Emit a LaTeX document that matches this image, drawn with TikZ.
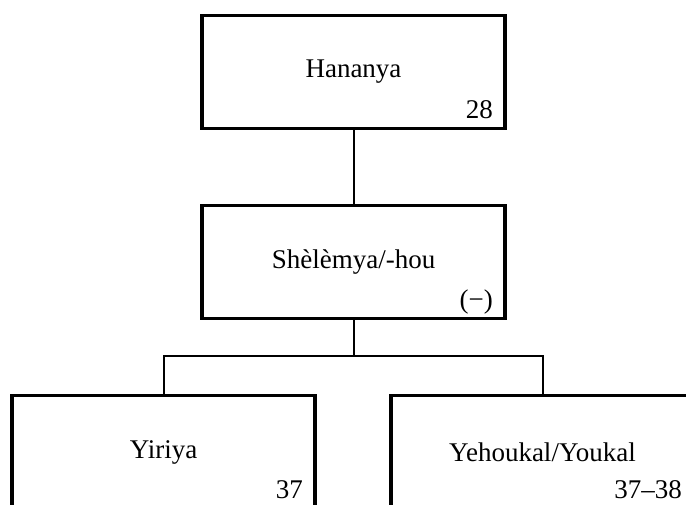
\documentclass[tikz,border=0pt]{standalone}
\usepackage{fontspec}
\setmainfont{Liberation Serif}
\usepackage{tikz}
\usetikzlibrary{calc}
\usetikzlibrary{positioning}
\tikzset{person/.style={draw=black, rectangle, line width=3.5pt, minimum width=303pt, minimum height=113pt, inner sep=0pt, outer sep=0pt, font=\fontsize{27}{32}\selectfont}}
\tikzset{num/.style={inner sep=0pt, font=\fontsize{27}{32}\selectfont}}
\tikzset{link/.style={draw=black, line width=2pt}}

\begin{document}
\begin{tikzpicture}[node distance={77pt}]
		\useasboundingbox (0,0) rectangle (686pt,504pt);
		\clip (0,0) rectangle (686pt,504pt);
		\node[person] (hananya) at (353.5pt,432pt) {Hananya};
		\node[person] (shelemya) [below=of hananya] {Shèlèmya/-hou};
		\node[person] (yiriya) [below=of shelemya, xshift=-190pt] {Yiriya};
		\node[person] (yehoukal) [below=of shelemya, xshift=189pt] {Yehoukal/Youkal};
		
		% numbers in the corners
		\node[num, anchor=base east] (hananya-n) at ($(hananya.south east)+(-12pt,10pt)$) {28};
		\node[num, anchor=base east] (shelemya-n) at ($(shelemya.south east)+(-12pt,10pt)$) {(−)};
		\node[num, anchor=base east] (yiriya-n) at ($(yiriya.south east)+(-12pt,10pt)$) {37};
		\node[num, anchor=base east] (yehoukal-n) at ($(yehoukal.south east)+(-12pt,10pt)$) {37–38};
		
		\coordinate (fork) at ($(shelemya.south)+(0,-38pt)$);
		\draw[link] (hananya) -- (shelemya);
		\draw[link] (shelemya) -- (fork);
		\draw[link] (fork) -| (yiriya);
		\draw[link] (fork) -| (yehoukal);
	\end{tikzpicture}
\end{document}
